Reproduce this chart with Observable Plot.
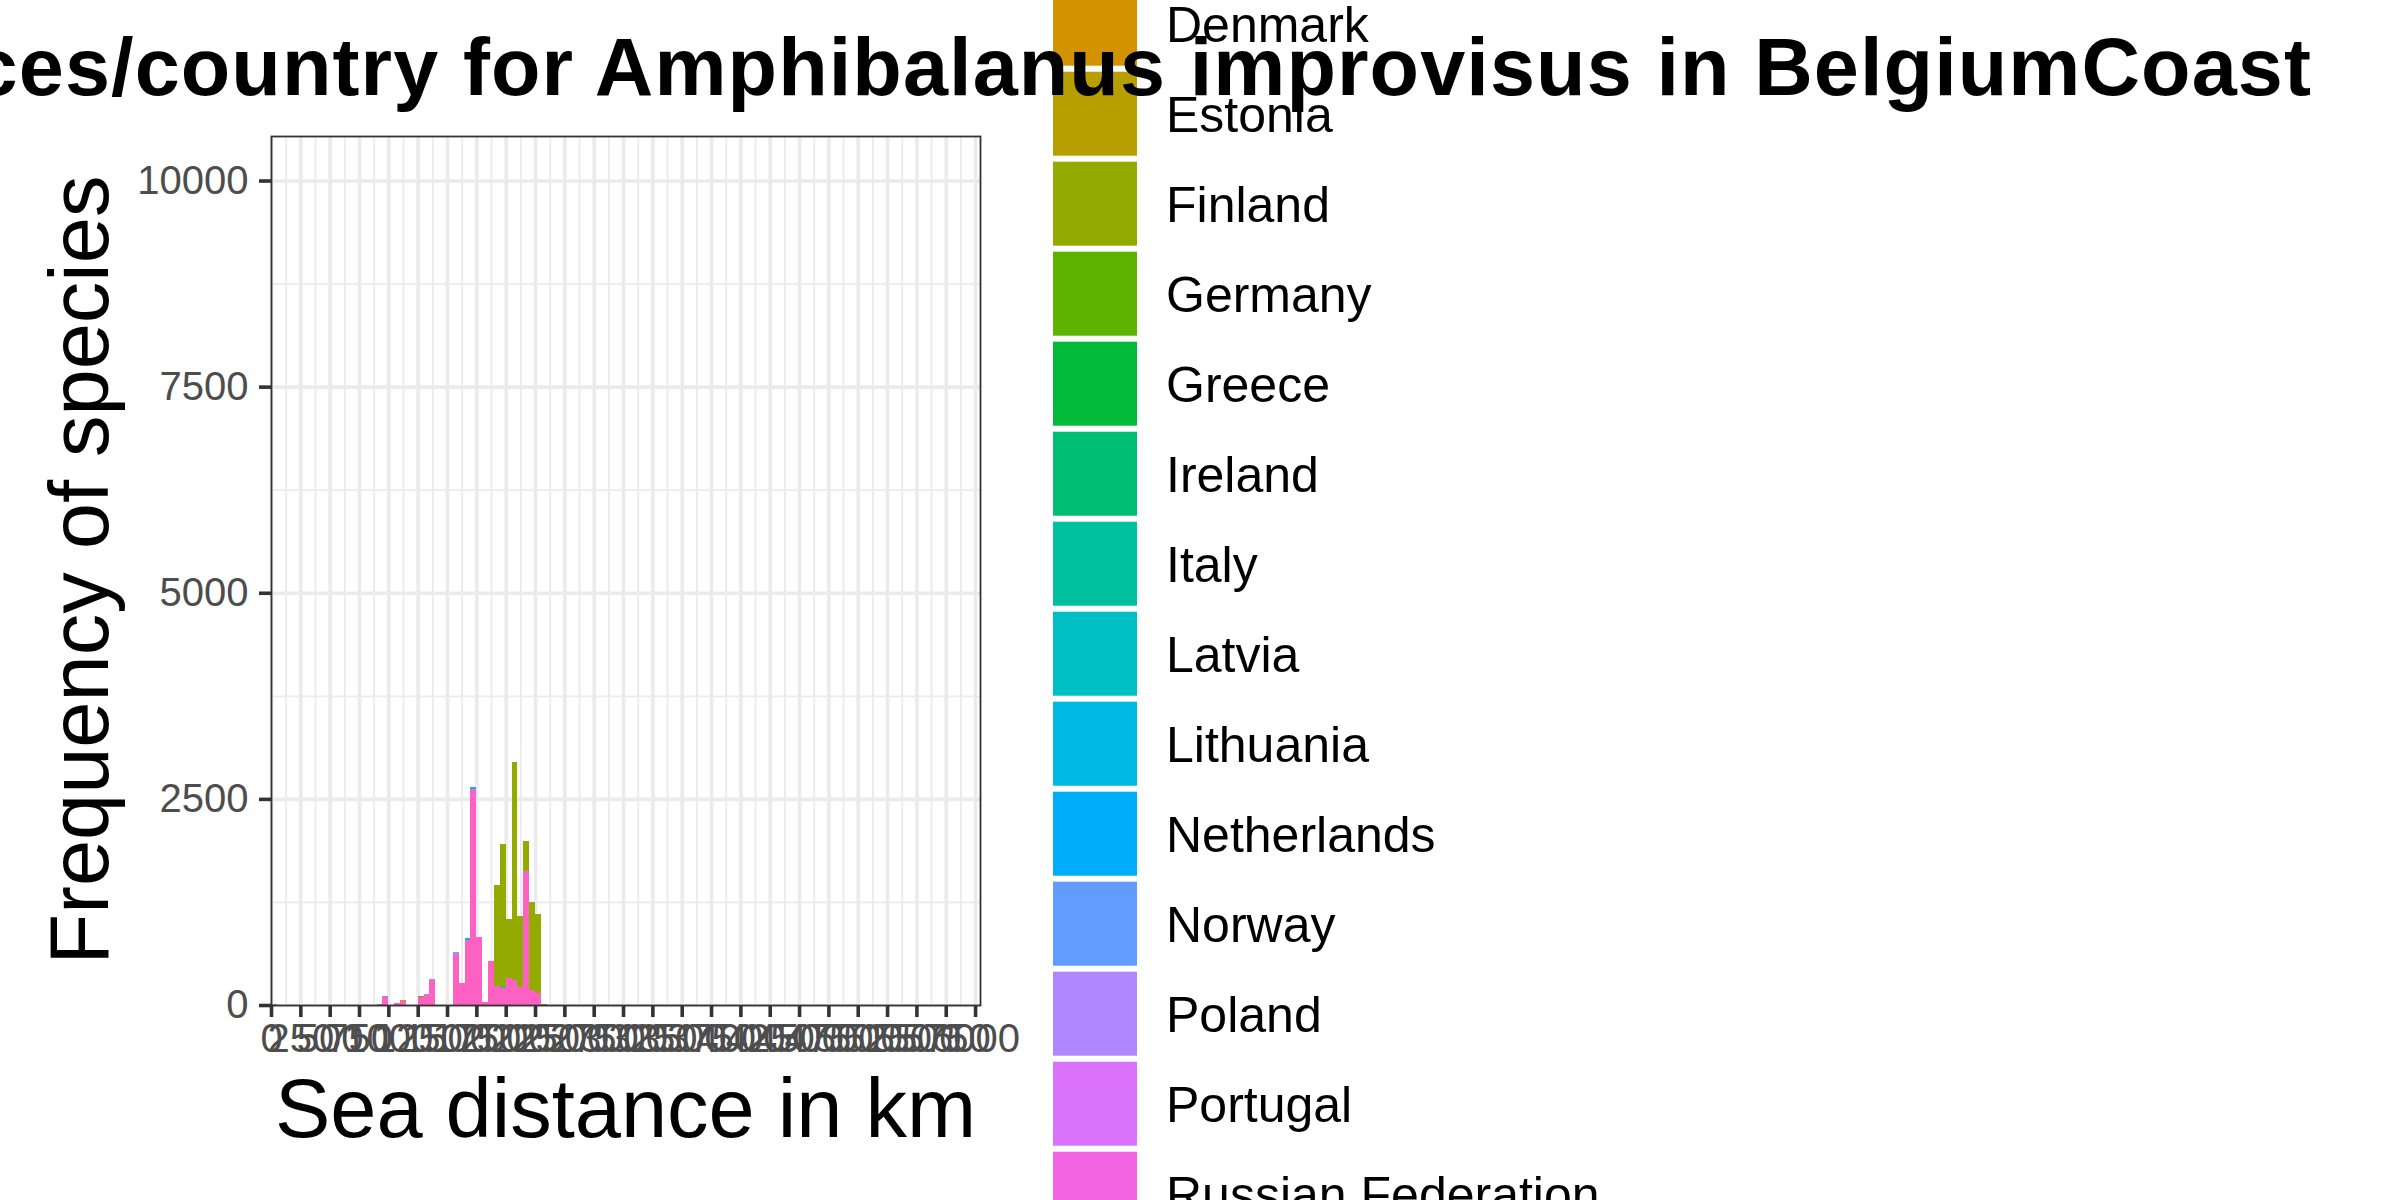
<!DOCTYPE html>
<html>
<head>
<meta charset="utf-8">
<script src="https://cdn.jsdelivr.net/npm/d3@7"></script>
<script src="https://cdn.jsdelivr.net/npm/@observablehq/plot@0.6"></script>
<style>
  html, body { margin: 0; padding: 0; background: #fff; overflow: hidden; }
  #wrap { position: relative; width: 2400px; height: 1200px; overflow: hidden; background: #fff;
          font-family: "Liberation Sans", Arial, sans-serif; }
  #wrap > svg { position: absolute; left: 0; top: 0; }
</style>
</head>
<body>
<div id="wrap"></div>
<script>
// ---- Data ----
const titleText = "Sea distances/country for Amphibalanus improvisus in BelgiumCoast";
const xTitle = "Sea distance in km";
const yTitle = "Frequency of species";

const countries = ["Belgium", "Bulgaria", "Denmark", "Estonia", "Finland", "Germany", "Greece",
  "Ireland", "Italy", "Latvia", "Lithuania", "Netherlands", "Norway", "Poland", "Portugal",
  "Russian Federation", "Sweden", "United Kingdom"];
const countryColors = ["#F8766D", "#E88526", "#D39200", "#B79F00", "#93AA00", "#5EB300", "#00BA38",
  "#00BF74", "#00C19F", "#00BFC4", "#00B9E3", "#00ADFA", "#619CFF", "#AE87FF", "#DB72FB",
  "#F564E3", "#FF61C3", "#FF6C91"];

const binWidth = 50;
const binStart    = [0, 50, 100, 900, 950, 1000, 1050, 1100, 1250, 1300, 1350, 1550, 1600, 1650, 1700, 1750, 1800, 1850, 1900, 1950, 2000, 2050, 2100, 2150, 2200, 2250, 2300];
const belgium     = [10, 0, 0,   0,   0,    0,    0,    0,    0,    0,    0,    0,    0,    0,    0,    0,    0,    0,    0,    0,    0,    0,    0,    0,    0,    0,    0];
const netherlands = [0,  5, 5,   0,   0,    0,    0,    0,    0,    0,    0,    0,    0,    0,    0,    0,    0,    0,    0,    0,    0,    0,    0,    0,    0,    0,    0];
const norway      = [0,  0, 0,  16,  12,    0,    0,    0,    0,    0,    0,    0,    0,    0,    0,    0,    0,    0,    0,    0,    0,    0,    0,    0,    0,    0,    0];
const denmark     = [0,  0, 0,   0,   0,    0,    0,   10,    0,    0,    0,    0,    0,    0,    0,    0,    0,    0,    0,    0,    0,    0,    0,    0,    0,    0,    0];
const germany     = [0,  0, 0,   0,   0,    0,    0,    0,   12,    0,    0,    0,    0,    0,    0,    0,    0,    0,    0,    0,    0,    0,    0,    0,    0,    0,    0];
const poland      = [0,  0, 0,   0,   0,    0,    0,    0,    0,   12,   20,   34,    0,    0,    0,    0,    0,    0,    0,    0,    0,    0,    0,    0,    0,    0,    0];
const lithuania   = [0,  0, 0,   0,   0,    0,    0,    0,    0,    0,    0,    0,    0,   24,   16,    0,    0,    0,    0,   12,    0,    0,    0,    0,    0,    0,    0];
const finland     = [0,  0, 0,   0,   0,    0,    0,    0,    0,    0,    0,    0,    0,    0,    0,    0,    0,    0, 1225, 1738,  716, 2650,  858,  364, 1068,  956,    8];
const sweden      = [0,  0, 0,   0, 100,    6,   24,   50,  100,  125,  298,  605,  262,  785, 2625,  820,   32,  530,  226,  205,  326,  300,  218, 1622,  178,  146,    0];

const xTicks = d3.range(0, 6001, 250);
const xMinor = d3.range(125, 6000, 250);
const yTicks = [0, 2500, 5000, 7500, 10000];
const yMinor = [1250, 3750, 6250, 8750];

// ---- Build table ----
const series = {
  "Belgium": belgium, "Netherlands": netherlands, "Norway": norway, "Denmark": denmark,
  "Germany": germany, "Poland": poland, "Lithuania": lithuania, "Finland": finland, "Sweden": sweden
};
const rows = [];
for (const [country, vals] of Object.entries(series)) {
  vals.forEach((v, i) => {
    if (v > 0) rows.push({x1: binStart[i], x2: binStart[i] + binWidth, country, count: v});
  });
}

const FONT = "'Liberation Sans', Arial, sans-serif";

const chart = Plot.plot({
  width: 1040,
  height: 1200,
  marginLeft: 271,
  marginRight: 60,
  marginTop: 136,
  marginBottom: 195,
  style: {fontFamily: FONT, background: "transparent"},
  x: {type: "linear", domain: [0, 6042]},
  y: {type: "linear", domain: [0, 10540]},
  color: {domain: countries, range: countryColors},
  marks: [
    Plot.gridX(xMinor, {stroke: "#EBEBEB", strokeOpacity: 1, strokeWidth: 1.8}),
    Plot.gridY(yMinor, {stroke: "#EBEBEB", strokeOpacity: 1, strokeWidth: 1.8}),
    Plot.gridX(xTicks, {stroke: "#EBEBEB", strokeOpacity: 1, strokeWidth: 3.6}),
    Plot.gridY(yTicks, {stroke: "#EBEBEB", strokeOpacity: 1, strokeWidth: 3.6}),
    Plot.rectY(rows, Plot.stackY({
      x1: "x1", x2: "x2", y: "count", fill: "country",
      order: [...countries].reverse(),
      shapeRendering: "crispEdges"
    })),
    Plot.frame({stroke: "#333333", strokeWidth: 1.8}),
    Plot.axisX({
      ticks: xTicks, tickSize: 12, tickPadding: 6, fontSize: 40,
      stroke: "#333333", strokeWidth: 3.6, fill: "#4D4D4D",
      tickFormat: d => String(d), label: null
    }),
    Plot.axisY({
      ticks: yTicks, tickSize: 12, tickPadding: 11, fontSize: 40,
      stroke: "#333333", strokeWidth: 3.6, fill: "#4D4D4D",
      tickFormat: d => String(d), label: null
    })
  ]
});

const wrap = document.getElementById("wrap");
wrap.appendChild(chart);

// ---- Overlay: legend, titles ----
const W = 2400, H = 1200;
const svg = d3.create("svg").attr("width", W).attr("height", H)
  .style("font-family", FONT);

// Legend (vertical, overflowing the picture as in the original)
const legendX = 1053, keySize = 84, keyPitch = 90, legendTop0 = -198.3, labelX = 1166;
countries.forEach((c, i) => {
  const top = legendTop0 + i * keyPitch;
  if (top > H || top + keySize < 0) return;
  svg.append("rect").attr("x", legendX).attr("y", top).attr("width", keySize).attr("height", keySize)
    .attr("fill", countryColors[i]);
  svg.append("text").attr("x", labelX).attr("y", top + 60).attr("font-size", 50)
    .attr("fill", "#000").text(c);
});

// Plot title (bold, overflows the left edge)
svg.append("text").attr("x", 2312).attr("y", 95).attr("text-anchor", "end")
  .attr("font-size", 81).attr("font-weight", "bold").attr("letter-spacing", 1.1)
  .attr("fill", "#000").text(titleText);

// Axis titles
svg.append("text").attr("x", 625.5).attr("y", 1137).attr("text-anchor", "middle")
  .attr("font-size", 83).attr("fill", "#000").text(xTitle);
svg.append("text").attr("transform", "translate(108,570) rotate(-90)").attr("text-anchor", "middle")
  .attr("font-size", 83).attr("fill", "#000").text(yTitle);

wrap.appendChild(svg.node());
</script>
</body>
</html>
